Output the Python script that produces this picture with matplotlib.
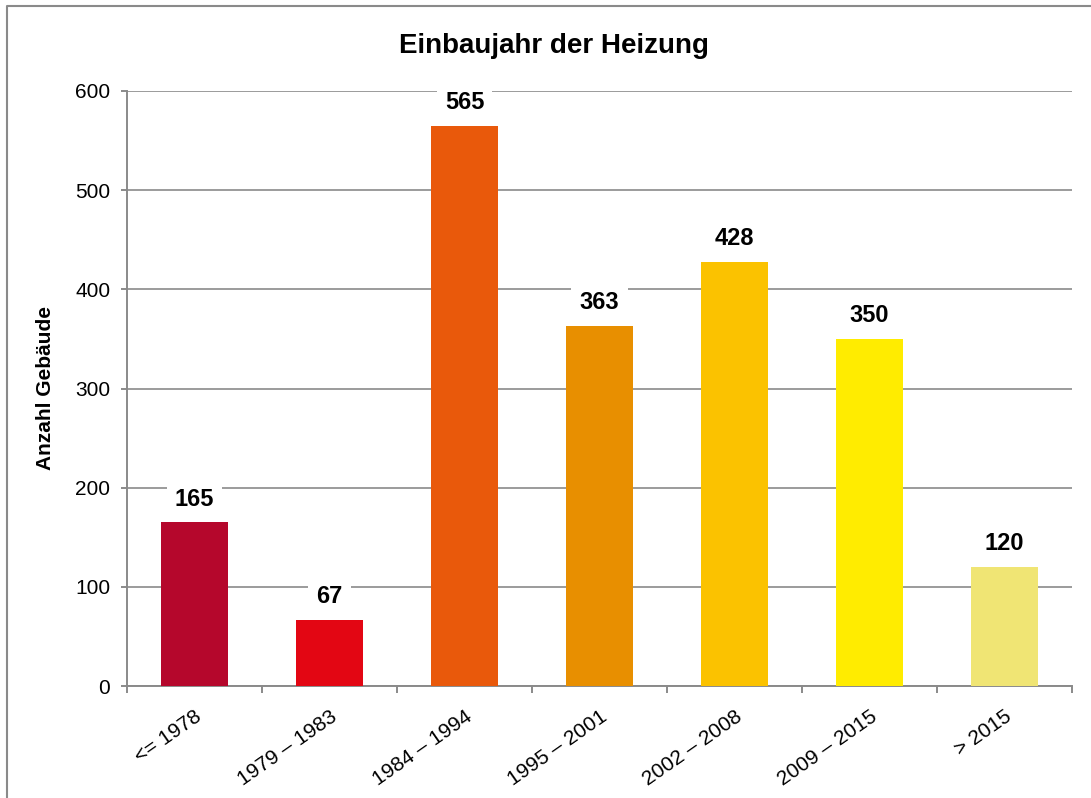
import numpy as np
import matplotlib
matplotlib.use("Agg")
import matplotlib.pyplot as plt
from matplotlib.lines import Line2D

plt.rcParams['font.family'] = ['Liberation Sans', 'DejaVu Sans']

# data
categories = ["<= 1978", "1979 \u2013 1983", "1984 \u2013 1994", "1995 \u2013 2001",
              "2002 \u2013 2008", "2009 \u2013 2015", "> 2015"]
counts = [165, 67, 565, 363, 428, 350, 120]
bar_colors = ["#B5072C", "#E30613", "#E9590B", "#E88F00", "#FBC200", "#FFEC00", "#F0E574"]

W, H = 1091, 798
fig = plt.figure(figsize=(W / 100, H / 100), dpi=100)
ax = fig.add_axes([127 / W, 1 - 686 / H, (1072 - 127) / W, (686 - 91) / H])

grey = "#8A8A8A"
x = np.arange(len(categories))
ax.bar(x, counts, width=0.5, color=bar_colors, zorder=3)

ax.set_xlim(-0.5, len(categories) - 0.5)
ax.set_ylim(0, 600)
ax.set_yticks(range(0, 601, 100))
ax.yaxis.grid(True, color=grey, linewidth=1.2, zorder=0)
ax.set_axisbelow(True)

for s in ["top", "right"]:
    ax.spines[s].set_visible(False)
for s in ["left", "bottom"]:
    ax.spines[s].set_color(grey)
    ax.spines[s].set_linewidth(1.4)

ax.tick_params(axis="y", length=4, width=1.4, color=grey, labelsize=15, pad=8)

# tick marks between categories, labels at centres
ax.set_xticks(np.arange(-0.5, len(categories), 1.0), minor=True)
ax.tick_params(axis="x", which="minor", length=5, width=1.4, color=grey)
ax.set_xticks(x)
ax.set_xticklabels(categories, rotation=35, ha="right", rotation_mode="anchor", fontsize=15)
ax.tick_params(axis="x", which="major", length=0, pad=15)

ax.set_ylabel("Anzahl Geb\u00e4ude", fontsize=15, fontweight="bold")
ax.yaxis.set_label_coords(-0.076, 0.5)

for xi, v in zip(x, counts):
    ax.annotate(str(v), (xi, v), xytext=(0, 12), textcoords="offset points",
                ha="center", va="baseline", fontsize=17, fontweight="bold", zorder=4,
                bbox=dict(boxstyle="square,pad=0.35", fc="white", ec="none"))

fig.text(554 / W, 1 - 53 / H, "Einbaujahr der Heizung", ha="center", va="baseline",
         fontsize=20, fontweight="bold")

# chart frame (left and top edges visible)
fig.add_artist(Line2D([7 / W, 7 / W, 1.0], [0.0, 1 - 6 / H, 1 - 6 / H],
                      transform=fig.transFigure, color=grey, linewidth=1.5))

fig.savefig("out.png", dpi=100)
